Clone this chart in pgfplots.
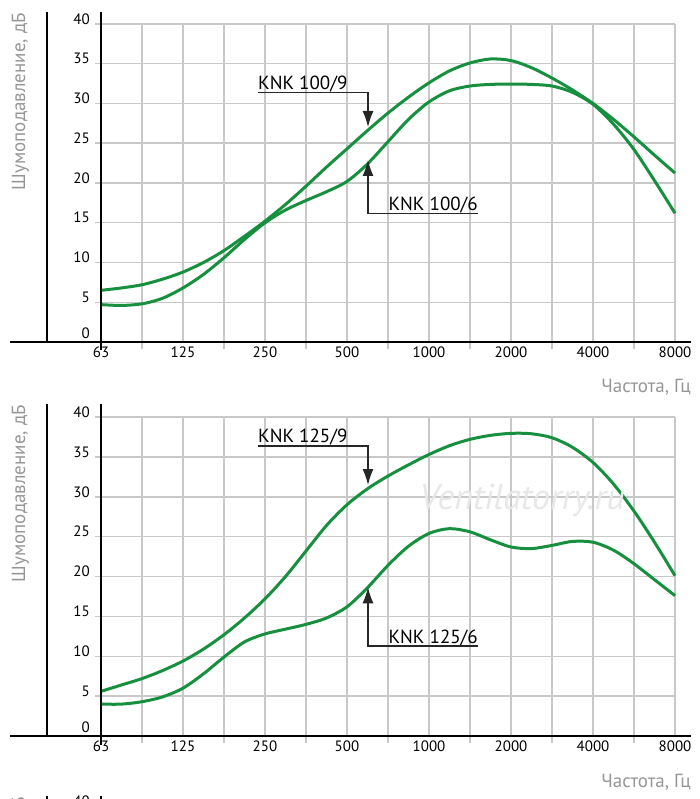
\documentclass[border=0pt]{standalone}
\usepackage{pgfplots}
\pgfplotsset{compat=1.18}
\usepackage{fontspec}
\setmainfont{PT Sans}
\usetikzlibrary{arrows.meta}
\definecolor{crv}{RGB}{22,144,62}
\definecolor{grd}{RGB}{200,200,200}
\definecolor{lbl}{RGB}{150,150,150}
\pgfplotsset{knk/.style={
  scale only axis, width=574pt,
  xmin=0,xmax=7,ymin=0,ymax=40,
  xtick={0,...,7}, xticklabels={63,125,250,500,1000,2000,4000,8000},
  minor xtick={0.5,1.5,...,6.5},
  ytick={5,10,...,40}, extra y ticks={0},
  extra y tick style={yticklabel style={yshift=4pt}},
  grid=both,
  major grid style={draw=grd,line width=1.5pt},
  minor grid style={draw=grd,line width=1.5pt},
  axis line style={draw=none},
  tick align=outside, xtick pos=bottom, ytick pos=left,
  major tick length=0pt, minor tick length=7pt,
  minor tick style={draw=grd, line width=1.5pt},
  tick label style={font=\fontsize{15}{17}\selectfont},
  /pgf/number format/assume math mode=true,
  xticklabel style={inner sep=0pt, yshift=-5pt},
  yticklabel style={anchor=east, inner sep=0pt, xshift=-11pt, yshift=5pt},
  clip=false,
  cycle list={{color=crv, line width=3pt, smooth, mark=none}},
}}
\tikzset{lab/.style={font=\fontsize{19}{21}\selectfont, inner sep=0pt, text=black},
  axl/.style={font=\fontsize{19}{21}\selectfont, inner sep=0pt, text=lbl},
  arr/.style={line width=1.3pt, draw=black!85, -{Latex[length=16pt,width=11pt]}},
  blk/.style={line width=1.8pt, draw=black}}
\begin{document}
\begin{tikzpicture}
\path[use as bounding box] (0,0) rectangle (700pt,-799pt);
% ---------- chart 1 ----------
\begin{axis}[knk, height=318pt, at={(101pt,-342pt)}, anchor=south west]
% KNK 100/9
\addplot+[smooth, color=crv, line width=3pt] coordinates {(0,6.5) (0.25,6.8) (0.5,7.2) (0.75,7.9) (1,8.8) (1.25,10.0) (1.5,11.5) (1.75,13.3) (2,15.2) (2.25,17.3) (2.5,19.6) (2.75,22.0) (3,24.3) (3.25,26.6) (3.5,28.8) (3.75,30.8) (4,32.6) (4.25,34.1) (4.5,35.1) (4.75,35.6) (5,35.4) (5.25,34.5) (5.5,33.2) (5.75,31.7) (6,30.0) (6.25,28.0) (6.5,25.8) (6.75,23.5) (7,21.25)};
% KNK 100/6
\addplot+[smooth, color=crv, line width=3pt] coordinates {(0,4.7) (0.25,4.6) (0.5,4.8) (0.75,5.5) (1,6.8) (1.25,8.5) (1.5,10.6) (1.75,12.9) (2,15.0) (2.25,16.6) (2.5,17.8) (2.75,18.9) (3,20.2) (3.25,22.4) (3.5,25.2) (3.75,28.0) (4,30.2) (4.25,31.6) (4.5,32.2) (4.75,32.4) (5,32.45) (5.25,32.4) (5.5,32.2) (5.75,31.4) (6,29.9) (6.25,27.4) (6.5,24.2) (6.75,20.3) (7,16.2)};
\end{axis}
% ---------- chart 2 ----------
\begin{axis}[knk, height=319pt, at={(101pt,-736pt)}, anchor=south west]
% KNK 125/9
\addplot+[smooth, color=crv, line width=3pt] coordinates {(0,5.6) (0.25,6.4) (0.5,7.2) (0.75,8.2) (1,9.4) (1.25,10.9) (1.5,12.7) (1.75,14.8) (2,17.2) (2.25,20.0) (2.5,23.2) (2.75,26.4) (3,29.0) (3.25,31.0) (3.5,32.6) (3.75,34.0) (4,35.3) (4.25,36.4) (4.5,37.2) (4.75,37.7) (5,37.95) (5.25,37.9) (5.5,37.4) (5.75,36.2) (6,34.3) (6.25,31.6) (6.5,28.2) (6.75,24.3) (7,20.1)};
% KNK 125/6
\addplot+[smooth, color=crv, line width=3pt] coordinates {(0,4.0) (0.25,4.0) (0.5,4.3) (0.75,4.9) (1,6.0) (1.25,7.8) (1.5,9.9) (1.75,11.8) (2,12.8) (2.25,13.4) (2.5,14.0) (2.75,14.8) (3,16.2) (3.25,18.6) (3.5,21.4) (3.75,23.8) (4,25.4) (4.25,26.0) (4.5,25.6) (4.75,24.6) (5,23.7) (5.25,23.5) (5.5,23.9) (5.75,24.4) (6,24.3) (6.25,23.3) (6.5,21.6) (6.75,19.6) (7,17.6)};
\end{axis}
% y grid stubs
\foreach \v in {5,10,...,40} {
  \draw[grd, line width=1.5pt] (95pt,{(-342+\v*7.95)*1pt}) -- (101pt,{(-342+\v*7.95)*1pt});
  \draw[grd, line width=1.5pt] (95pt,{(-736+\v*7.975)*1pt}) -- (101pt,{(-736+\v*7.975)*1pt});
}
% black axis lines
\draw[blk] (10pt,-342pt) -- (691pt,-342pt);
\draw[blk] (101pt,-12pt) -- (101pt,-350pt);
\draw[blk] (47pt,-12pt) -- (47pt,-342pt);
\draw[blk] (10pt,-736pt) -- (691pt,-736pt);
\draw[blk] (101pt,-404pt) -- (101pt,-745pt);
\draw[blk] (47pt,-404pt) -- (47pt,-736pt);
\draw[blk] (101pt,-796pt) -- (101pt,-830pt);
\draw[blk] (47pt,-796pt) -- (47pt,-830pt);
% axis titles
\node[axl, rotate=90, anchor=base east] at (25pt,-13pt) {Шумоподавление, дБ};
\node[axl, rotate=90, anchor=base east] at (25pt,-405pt) {Шумоподавление, дБ};
\node[axl, rotate=90, anchor=base east] at (25pt,-797pt) {Шумоподавление, дБ};
\node[axl, anchor=base east] at (691pt,-392pt) {Частота, Гц};
\node[axl, anchor=base east] at (691pt,-787pt) {Частота, Гц};
\node[font=\fontsize{15}{17}\selectfont, inner sep=0pt, anchor=east] at (90pt,-801pt) {40};
% watermark
\node[font=\fontsize{36}{40}\selectfont\itshape, text=black!9] at (522pt,-500pt) {Ventilatorry.ru};
% annotations
\node[lab, anchor=base west] at (258pt,-89.3pt) {KNK 100/9};
\draw[arr] (258pt,-92.7pt) -- (368pt,-92.7pt) -- (368pt,-127pt);
\node[lab, anchor=base east] at (478pt,-211pt) {KNK 100/6};
\draw[arr] (478pt,-213.3pt) -- (368pt,-213.3pt) -- (368pt,-160pt);
\node[lab, anchor=base west] at (258pt,-442.7pt) {KNK 125/9};
\draw[arr] (258pt,-446pt) -- (368pt,-446pt) -- (368pt,-485pt);
\node[lab, anchor=base east] at (478pt,-643pt) {KNK 125/6};
\draw[arr] (478pt,-646pt) -- (368pt,-646pt) -- (368pt,-587.3pt);
\end{tikzpicture}
\end{document}
